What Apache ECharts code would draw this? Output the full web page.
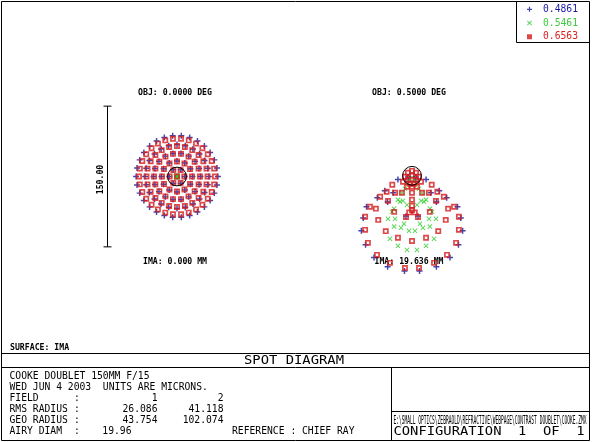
<!DOCTYPE html>
<html>
<head>
<meta charset="utf-8">
<script src="https://cdn.jsdelivr.net/npm/echarts@6/dist/echarts.min.js"></script>
<style>
  body { margin: 0; background: #fff; }
  #main { width: 592px; height: 442px; }
</style>
</head>
<body>
<div id="main"></div>
<script>
var wavelengths = ['0.4861', '0.5461', '0.6563'];
var objLabels = ['OBJ: 0.0000 DEG', 'OBJ: 0.5000 DEG'];
var imaLabels = ['IMA: 0.000 MM', 'IMA: 19.636 MM'];
var fieldNames = ['1', '2'];
var rmsRadius = ['26.086', '41.118'];
var geoRadius = ['43.754', '102.074'];
var airyDiam = 19.96;
var scaleBar = 150;       // microns
var scaleBarX = -75;      // microns, left of the first spot

// field 1 (on axis), microns relative to chief ray
var blueField1 = [
  [0,0],
  [8.2,0],[4.1,7.1],[-4.1,7.1],[-8.2,0],[-4.1,-7.1],[4.1,-7.1],
  [16.5,0],[14.3,8.3],[8.3,14.3],[0,16.5],[-8.3,14.3],[-14.3,8.3],[-16.5,0],[-14.3,-8.3],[-8.3,-14.3],[0,-16.5],[8.3,-14.3],[14.3,-8.3],
  [25,0],[23.5,8.6],[19.2,16.1],[12.5,21.7],[4.3,24.6],[-4.3,24.6],[-12.5,21.7],[-19.2,16.1],[-23.5,8.6],[-25,0],[-23.5,-8.6],[-19.2,-16.1],[-12.5,-21.7],[-4.3,-24.6],[4.3,-24.6],[12.5,-21.7],[19.2,-16.1],[23.5,-8.6],
  [34,0],[32.8,8.8],[29.4,17],[24,24],[17,29.4],[8.8,32.8],[0,34],[-8.8,32.8],[-17,29.4],[-24,24],[-29.4,17],[-32.8,8.8],[-34,0],[-32.8,-8.8],[-29.4,-17],[-24,-24],[-17,-29.4],[-8.8,-32.8],[0,-34],[8.8,-32.8],[17,-29.4],[24,-24],[29.4,-17],[32.8,-8.8],
  [43.6,0],[42.6,9.1],[39.8,17.7],[35.3,25.6],[29.2,32.4],[21.8,37.8],[13.5,41.5],[4.6,43.4],[-4.6,43.4],[-13.5,41.5],[-21.8,37.8],[-29.2,32.4],[-35.3,25.6],[-39.8,17.7],[-42.6,9.1],
  [-43.6,0],[-42.6,-9.1],[-39.8,-17.7],[-35.3,-25.6],[-29.2,-32.4],[-21.8,-37.8],[-13.5,-41.5],[-4.6,-43.4],[4.6,-43.4],[13.5,-41.5],[21.8,-37.8],[29.2,-32.4],[35.3,-25.6],[39.8,-17.7],[42.6,-9.1]
];
var greenField1 = [
  [0,0],[1.2,0],[0.6,1],[-0.6,1],[-1.2,0],[-0.6,-1],[0.6,-1]
];
var redField1 = [
  [0,0],
  [7.8,0],[3.9,6.8],[-3.9,6.8],[-7.8,0],[-3.9,-6.8],[3.9,-6.8],
  [16,0],[13.9,8],[8,13.9],[0,16],[-8,13.9],[-13.9,8],[-16,0],[-13.9,-8],[-8,-13.9],[0,-16],[8,-13.9],[13.9,-8],
  [24.5,0],[23,8.4],[18.8,15.7],[12.3,21.2],[4.3,24.1],[-4.3,24.1],[-12.3,21.2],[-18.8,15.7],[-23,8.4],[-24.5,0],[-23,-8.4],[-18.8,-15.7],[-12.3,-21.2],[-4.3,-24.1],[4.3,-24.1],[12.3,-21.2],[18.8,-15.7],[23,-8.4],
  [32.5,0],[31.4,8.4],[28.1,16.3],[23,23],[16.3,28.1],[8.4,31.4],[0,32.5],[-8.4,31.4],[-16.3,28.1],[-23,23],[-28.1,16.3],[-31.4,8.4],[-32.5,0],[-31.4,-8.4],[-28.1,-16.3],[-23,-23],[-16.3,-28.1],[-8.4,-31.4],[0,-32.5],[8.4,-31.4],[16.3,-28.1],[23,-23],[28.1,-16.3],[31.4,-8.4],
  [40.5,0],[39.6,8.4],[37,16.5],[32.8,23.8],[27.1,30.1],[20.3,35.1],[12.5,38.5],[4.3,40.3],[-4.3,40.3],[-12.5,38.5],[-20.3,35.1],[-27.1,30.1],[-32.8,23.8],[-37,16.5],[-39.6,8.4],
  [-40.5,0],[-39.6,-8.4],[-37,-16.5],[-32.8,-23.8],[-27.1,-30.1],[-20.3,-35.1],[-12.5,-38.5],[-4.3,-40.3],[4.3,-40.3],[12.5,-38.5],[20.3,-35.1],[27.1,-30.1],[32.8,-23.8],[37,-16.5],[39.6,-8.4]
];

// field 2 (0.5 deg)
var blueField2 = [
  [4,-1],[-4,-1],[4,-6],[-4,-6],[15,-4],[-15,-4],[29,-16],[-29,-16],[20,-18],[-20,-18],
  [26,-28],[-26,-28],[6.4,-43],[-6.4,-43],
  [37,-23.5],[-37,-23.5],[48.5,-33],[-48.5,-33],[52,-45],[-52,-45],[54,-58.5],[-54,-58.5],
  [49.5,-73.5],[-49.5,-73.5],[40.5,-87],[-40.5,-87],[26,-97],[-26,-97],[8,-101.5],[-8,-101.5]
];
var greenField2 = [
  [2,-3],[-2,-3],[4.3,-8.5],[-4.3,-8.5],[7.5,-13.9],[-7.5,-13.9],[10.7,-18],[-10.7,-18],
  [9.6,-26.7],[-9.6,-26.7],[12.8,-27.7],[-12.8,-27.7],[15,-25.6],[-15,-25.6],[5.3,-31],[-5.3,-31],
  [19.2,-35.2],[-19.2,-35.2],[21.3,-38.4],[-21.3,-38.4],[25.6,-45.9],[-25.6,-45.9],[18.1,-45.9],[-18.1,-45.9],
  [8.5,-51.2],[-8.5,-51.2],[11.7,-55.5],[-11.7,-55.5],[19,-54],[-19,-54],[3.2,-58.7],[-3.2,-58.7],
  [23.5,-67.2],[-23.5,-67.2],[15,-74.7],[-15,-74.7],[5.3,-79],[-5.3,-79]
];
var redField2 = [
  [0,0],[4.3,3.2],[-4.3,3.2],[7.5,-1],[-7.5,-1],[4.3,-4.3],[-4.3,-4.3],[9.6,-6.4],[-9.6,-6.4],
  [2,-8.5],[-2,-8.5],[0,-11.7],[5.3,-11.7],[-5.3,-11.7],[0,5.3],
  [21,-9.6],[-21,-9.6],[18,-18],[-18,-18],[10.7,-18],[-10.7,-18],[0,-18],[0,-25.6],[0,-32],[0,-36.5],[3,-39],[-3,-39],
  [38.5,-35],[-38.5,-35],[36,-47],[-36,-47],[28,-59],[-28,-59],[15,-66],[-15,-66],[0,-69.5],
  [6.4,-44],[-6.4,-44],[19,-38.5],[-19,-38.5],[27,-17],[-27,-17],[25.6,-26.7],[-25.6,-26.7],
  [34,-22.4],[-34,-22.4],[44.8,-33],[-44.8,-33],[50,-43.7],[-50,-43.7],[50,-57.6],[-50,-57.6],
  [47,-71.5],[-47,-71.5],[37.3,-84.3],[-37.3,-84.3],[23.5,-92.8],[-23.5,-92.8],[7.5,-98.2],[-7.5,-98.2]
];

var MONO = '"DejaVu Sans Mono", monospace';
var colors = ['#16169a', '#2ecc2e', '#d41c1c'];
var textColors = ['#1a1aa8', '#3ccc3c', '#dd2020'];
var plusSym = 'path://M3.8,0H6.2V3.8H10V6.2H6.2V10H3.8V6.2H0V3.8H3.8Z';
var xSym = 'path://M0,1.4L1.4,0L5,3.6L8.6,0L10,1.4L6.4,5L10,8.6L8.6,10L5,6.4L1.4,10L0,8.6L3.6,5Z';

var pxPerMicron = 0.938;
var span = 200 * pxPerMicron;
// chief ray pixel positions of the two spots
var centers = [[177, 176.5], [412, 175.8]];
var yRanges = [[-100, 100], [-150, 50]];

var ctx = document.createElement('canvas').getContext('2d');
function fitScale(str, font, width) {
  ctx.font = font;
  return width / ctx.measureText(str).width;
}

function text(x, y, str, size, opt) {
  opt = opt || {};
  var font = (opt.bold ? 'bold ' : '') + size + 'px ' + MONO;
  var el = {
    type: 'text', x: x, y: y, silent: true,
    style: { text: str, font: font, fill: opt.color || '#000', textAlign: opt.align || 'left', textVerticalAlign: 'middle' }
  };
  if (opt.width) el.scaleX = fitScale(str, font, opt.width);
  return el;
}
function line(x1, y1, x2, y2) {
  return { type: 'line', silent: true, shape: { x1: x1, y1: y1, x2: x2, y2: y2 }, style: { stroke: '#000', lineWidth: 1 } };
}

var graphic = [
  { type: 'rect', silent: true, shape: { x: 1.5, y: 1.5, width: 588, height: 439 }, style: { fill: 'none', stroke: '#000', lineWidth: 1 } },
  line(516.5, 1.5, 516.5, 42.5),
  line(516.5, 42.5, 589.5, 42.5),
  line(1.5, 353.5, 589.5, 353.5),
  line(1.5, 367.5, 589.5, 367.5),
  line(391.5, 367.5, 391.5, 440.5),
  line(391.5, 411.5, 589.5, 411.5),
  text(175, 92.7, objLabels[0], 8.2, { bold: true, align: 'center' }),
  text(409, 92.7, objLabels[1], 8.2, { bold: true, align: 'center' }),
  text(175, 261.7, imaLabels[0], 8.2, { bold: true, align: 'center' }),
  text(409, 261.7, imaLabels[1], 8.2, { bold: true, align: 'center' }),
  text(10, 348.3, 'SURFACE: IMA', 8.2, { bold: true }),
  text(294, 360.8, 'SPOT DIAGRAM', 11.4, { align: 'center', width: 100 }),
  text(9.5, 376, 'COOKE DOUBLET 150MM F/15', 9.7),
  text(9.5, 387, 'WED JUN 4 2003  UNITS ARE MICRONS.', 9.7),
  text(9.5, 398, 'FIELD', 9.7),
  text(9.5, 409, 'RMS RADIUS', 9.7),
  text(9.5, 420, 'GEO RADIUS', 9.7),
  text(9.5, 431, 'AIRY DIAM', 9.7),
  text(77, 398, ':', 9.7, { align: 'center' }),
  text(77, 409, ':', 9.7, { align: 'center' }),
  text(77, 420, ':', 9.7, { align: 'center' }),
  text(77, 431, ':', 9.7, { align: 'center' }),
  text(157.5, 398, fieldNames[0], 9.7, { align: 'right' }),
  text(223.5, 398, fieldNames[1], 9.7, { align: 'right' }),
  text(157.5, 409, rmsRadius[0], 9.7, { align: 'right' }),
  text(223.5, 409, rmsRadius[1], 9.7, { align: 'right' }),
  text(157.5, 420, geoRadius[0], 9.7, { align: 'right' }),
  text(223.5, 420, geoRadius[1], 9.7, { align: 'right' }),
  text(131.5, 431, airyDiam.toFixed(2), 9.7, { align: 'right' }),
  text(232, 431, 'REFERENCE', 9.7),
  text(293.4, 431, ':', 9.7, { align: 'center' }),
  text(302, 431, 'CHIEF RAY', 9.7),
  text(393.5, 421, 'E:\\SMALL OPTICS\\ZEBRAOLD\\REFRACTIVE\\WEBPAGE\\CONTRAST DOUBLET\\COOKE.ZMX', 13, { width: 193 }),
  text(393.5, 432, 'CONFIGURATION  1  OF  1', 12.9, { width: 191 })
];

var grids = [], xAxes = [], yAxes = [];
centers.forEach(function (c, i) {
  var yr = yRanges[i];
  grids.push({
    left: c[0] - span / 2, top: c[1] - yr[1] * pxPerMicron,
    width: span, height: span, outerBoundsMode: 'none'
  });
  xAxes.push({ type: 'value', gridIndex: i, min: -100, max: 100, show: false });
  yAxes.push({ type: 'value', gridIndex: i, min: yr[0], max: yr[1], show: false });
});

function spot(name, data, gi, k) {
  var s = {
    name: name, type: 'scatter', data: data, xAxisIndex: gi, yAxisIndex: gi,
    silent: true, z: 2 + k
  };
  if (k === 0) { s.symbol = plusSym; s.symbolSize = 6; s.itemStyle = { color: colors[0] }; }
  if (k === 1) { s.symbol = xSym; s.symbolSize = 5; s.itemStyle = { color: colors[1] }; }
  if (k === 2) {
    s.symbol = 'rect'; s.symbolSize = 4.2;
    s.itemStyle = { color: 'rgba(0,0,0,0)', borderColor: colors[2], borderWidth: 1.7 };
  }
  return s;
}

function airy(gi) {
  return {
    type: 'custom', xAxisIndex: gi, yAxisIndex: gi, silent: true, clip: false, z: 6,
    data: [[0, 0]],
    renderItem: function (params, api) {
      var c = api.coord([api.value(0), api.value(1)]);
      var r = api.size([airyDiam / 2, 0])[0];
      return { type: 'circle', shape: { cx: c[0], cy: c[1], r: r }, style: { fill: 'none', stroke: '#000', lineWidth: 1 } };
    }
  };
}

var series = [
  spot(wavelengths[0], blueField1, 0, 0),
  spot(wavelengths[1], greenField1, 0, 1),
  spot(wavelengths[2], redField1, 0, 2),
  spot(wavelengths[0], blueField2, 1, 0),
  spot(wavelengths[1], greenField2, 1, 1),
  spot(wavelengths[2], redField2, 1, 2),
  airy(0),
  airy(1),
  {
    type: 'custom', xAxisIndex: 0, yAxisIndex: 0, silent: true, clip: false,
    data: [[scaleBarX, scaleBar]],
    renderItem: function (params, api) {
      var len = api.value(1);
      var top = api.coord([api.value(0), len / 2]);
      var bot = api.coord([api.value(0), -len / 2]);
      var x = Math.round(top[0]) + 0.5;
      var st = { stroke: '#000', lineWidth: 1 };
      return {
        type: 'group',
        children: [
          { type: 'line', shape: { x1: x, y1: top[1], x2: x, y2: bot[1] }, style: st },
          { type: 'line', shape: { x1: x - 4, y1: top[1], x2: x + 4, y2: top[1] }, style: st },
          { type: 'line', shape: { x1: x - 4, y1: bot[1], x2: x + 4, y2: bot[1] }, style: st },
          {
            type: 'text', x: x - 7, y: (top[1] + bot[1]) / 2 + 3, rotation: Math.PI / 2,
            style: { text: len.toFixed(2), font: 'bold 8.2px ' + MONO, fill: '#000', textAlign: 'center', textVerticalAlign: 'middle' }
          }
        ]
      };
    }
  }
];

var myChart = echarts.init(document.getElementById('main'));
myChart.setOption({
  animation: false,
  backgroundColor: '#fff',
  legend: {
    orient: 'vertical', left: 527, top: 3.5, padding: 0,
    itemWidth: 5, itemHeight: 5, itemGap: 2, selectedMode: false,
    textStyle: { fontFamily: MONO, fontSize: 9.7, lineHeight: 11.7, padding: [0, 0, 0, 6] },
    data: [
      { name: wavelengths[0], icon: plusSym, itemStyle: { color: colors[0] }, textStyle: { color: textColors[0] } },
      { name: wavelengths[1], icon: xSym, itemStyle: { color: colors[1] }, textStyle: { color: textColors[1] } },
      { name: wavelengths[2], icon: 'rect', itemStyle: { color: colors[2], borderWidth: 0 }, textStyle: { color: textColors[2] } }
    ]
  },
  grid: grids,
  xAxis: xAxes,
  yAxis: yAxes,
  graphic: graphic,
  series: series
});
</script>
</body>
</html>
